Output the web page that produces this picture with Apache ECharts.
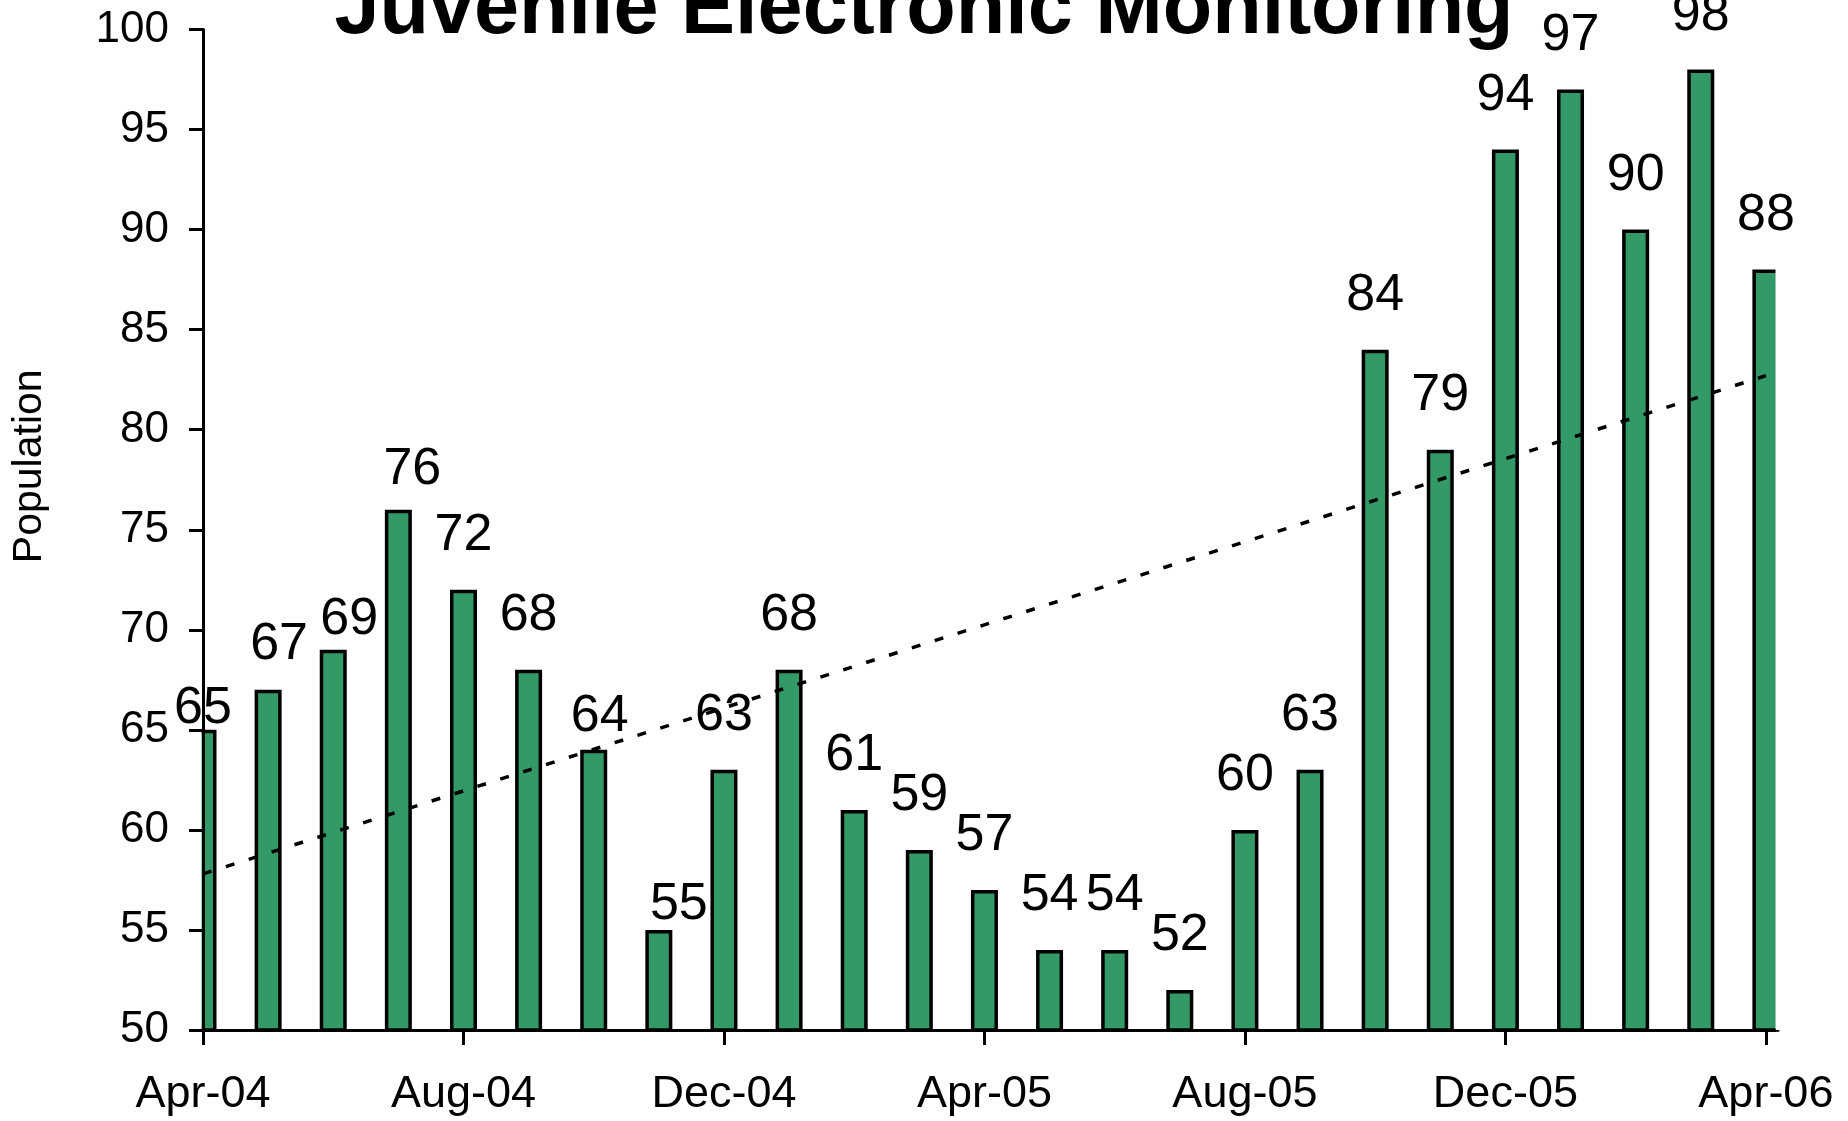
<!DOCTYPE html>
<html>
<head>
<meta charset="utf-8">
<title>Juvenile Electronic Monitoring</title>
<script src="https://cdn.jsdelivr.net/npm/echarts@6/dist/echarts.min.js"></script>
<style>
  html, body { margin: 0; padding: 0; background: #fff; }
  #chart { width: 1848px; height: 1121px; }
</style>
</head>
<body>
<div id="chart"></div>
<script>
/* =================== 青少年电子监控人数 月度柱状图 =================== */

// 月份（每根柱子一个月）
const months = [
  'Apr-04', 'May-04', 'Jun-04', 'Jul-04', 'Aug-04', 'Sep-04', 'Oct-04', 'Nov-04',
  'Dec-04', 'Jan-05', 'Feb-05', 'Mar-05', 'Apr-05', 'May-05', 'Jun-05', 'Jul-05',
  'Aug-05', 'Sep-05', 'Oct-05', 'Nov-05', 'Dec-05', 'Jan-06', 'Feb-06', 'Mar-06',
  'Apr-06'
];

// 每月人数
const population = [
  65, 67, 69, 76, 72, 68, 64, 55, 63, 68, 61, 59, 57,
  54, 54, 52, 60, 63, 84, 79, 94, 97, 90, 98, 88
];

// x 轴上显示的刻度标签
const axisMonths = ['Apr-04', 'Aug-04', 'Dec-04', 'Apr-05', 'Aug-05', 'Dec-05', 'Apr-06'];

// 趋势线（图上读出的首尾两端的值）
const trendEnds = [57.8, 82.7];

// 原图里有几个数值标签被手动挪过，这里按像素偏移还原 [dx, dy]
const labelNudge = {
  'Apr-04': [0, 33],
  'May-04': [11, 9],
  'Jun-04': [16, 24],
  'Jul-04': [14, 14],
  'Oct-04': [6, 21],
  'Nov-04': [20, 29]
};

const FONT = '"Liberation Sans", Arial, sans-serif';

// 网格位置（像素）
const GRID = { left: 203, right: 73, top: 29.5, bottom: 91 };
const W = 1848, H = 1121;

const chart = echarts.init(document.getElementById('chart'));

const axisIdx = axisMonths.map(m => months.indexOf(m));
const lastIdx = months.length - 1;

// 柱子数据，带上个别标签的偏移
const barData = population.map((v, i) => {
  const item = { value: [i, v] };
  const nudge = labelNudge[months[i]];
  if (nudge) item.label = { offset: nudge };
  return item;
});

const plotRight = W - GRID.right;
const plotBottom = H - GRID.bottom;

const option = {
  backgroundColor: '#fff',
  animation: false,
  title: {
    text: 'Juvenile Electronic Monitoring',
    left: 'center',
    top: -35, // 标题上半部分被裁掉，和原图一致
    textStyle: { color: '#000', fontFamily: FONT, fontWeight: 'bold', fontSize: 81 }
  },
  grid: GRID,
  // 数值轴上的柱子 ECharts 会多留半个柱宽不裁剪，用白色遮罩盖住网格外的部分
  graphic: [
    {
      type: 'rect',
      z: 5,
      silent: true,
      shape: { x: GRID.left - 20, y: 726.5, width: 18.5, height: plotBottom - 726.5 },
      style: { fill: '#fff' }
    },
    {
      type: 'rect',
      z: 5,
      silent: true,
      shape: { x: plotRight + 0.5, y: 255, width: 20, height: plotBottom - 255 },
      style: { fill: '#fff' }
    }
  ],
  xAxis: {
    type: 'value',
    z: 10,
    min: 0,
    max: lastIdx + 0.14, // 右侧略超出最后一个月
    axisLine: { onZero: false, lineStyle: { color: '#000', width: 3 } },
    axisTick: { customValues: axisIdx, length: 15, lineStyle: { color: '#000', width: 3 } },
    axisLabel: {
      customValues: axisIdx,
      margin: 42,
      color: '#000',
      fontFamily: FONT,
      fontSize: 45,
      formatter: v => months[Math.round(v)] || ''
    },
    splitLine: { show: false }
  },
  yAxis: {
    type: 'value',
    z: 10,
    min: 50,
    max: 100,
    interval: 5,
    name: 'Population',
    nameLocation: 'middle',
    nameGap: 153,
    nameTextStyle: { color: '#000', fontFamily: FONT, fontSize: 41, padding: [0, 0, 0, 127] },
    axisLine: { show: true, lineStyle: { color: '#000', width: 3 } },
    axisTick: { show: true, length: 14, lineStyle: { color: '#000', width: 3 } },
    axisLabel: { margin: 34, color: '#000', fontFamily: FONT, fontSize: 44 },
    splitLine: { show: false }
  },
  series: [
    {
      name: 'Population',
      type: 'bar',
      clip: true,
      barWidth: 27,
      data: barData,
      itemStyle: { color: '#339966', borderColor: '#000', borderWidth: 3.5 },
      label: {
        show: true,
        position: 'top',
        distance: 28,
        color: '#000',
        fontFamily: FONT,
        fontSize: 52,
        formatter: p => p.value[1]
      },
      z: 2
    },
    {
      name: 'Trend',
      type: 'line',
      symbol: 'none',
      silent: true,
      data: [[0, trendEnds[0]], [lastIdx, trendEnds[1]]],
      lineStyle: { color: '#000', width: 3.5, type: [9, 15] },
      z: 6
    }
  ]
};

chart.setOption(option);
</script>
</body>
</html>
